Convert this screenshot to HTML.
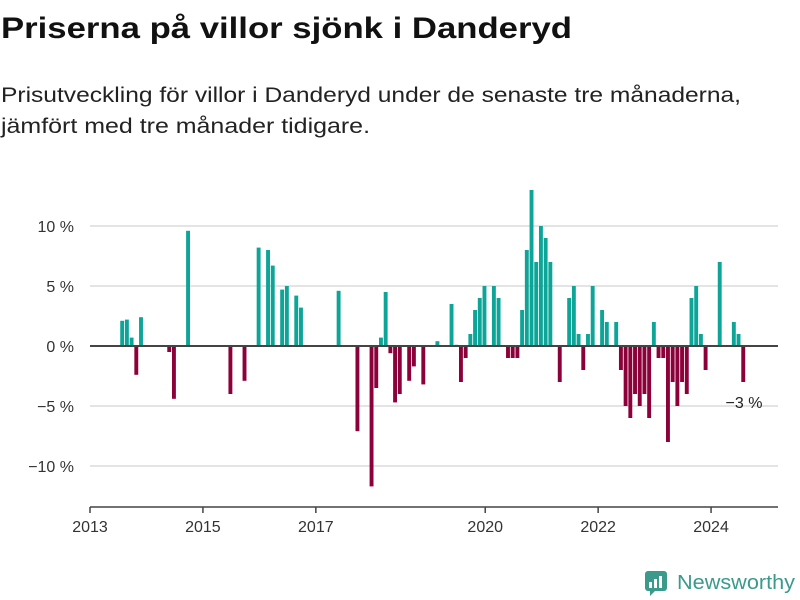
<!DOCTYPE html>
<html><head><meta charset="utf-8"><style>
html,body{margin:0;padding:0;background:#fff;}
svg{display:block;font-family:"Liberation Sans","DejaVu Sans",sans-serif;}
</style></head><body>
<svg id="chart" width="800" height="600" viewBox="0 0 800 600">
<text x="1" y="38" font-size="30" font-weight="bold" fill="#111" textLength="571" lengthAdjust="spacingAndGlyphs">Priserna på villor sjönk i Danderyd</text>
<text x="1" y="102" font-size="21" fill="#222" textLength="740" lengthAdjust="spacingAndGlyphs">Prisutveckling för villor i Danderyd under de senaste tre månaderna,</text>
<text x="1" y="133" font-size="21" fill="#222" textLength="369" lengthAdjust="spacingAndGlyphs">jämfört med tre månader tidigare.</text>
<g id="grid"></g>
<g id="bars"></g>
<g id="axes"></g>
<text x="744" y="408" font-size="16" fill="#222" text-anchor="middle">−3 %</text>
<g>
<rect x="645" y="571" width="22" height="20" rx="3" fill="#3a9a8c"/>
<path d="M650 591 l0 5 l5 -5z" fill="#3a9a8c"/>
<rect x="649" y="582" width="3" height="6" fill="#fff"/><rect x="654" y="579" width="3" height="9" fill="#fff"/><rect x="659" y="576" width="3" height="12" fill="#fff"/>
<text x="677" y="589" font-size="20" fill="#3a9a8c" textLength="118" lengthAdjust="spacingAndGlyphs">Newsworthy</text>
</g>
</svg>
<script>
const months=[6,7,8,9,10,16,17,20,29,32,35,37,38,40,41,43,44,52,56,59,60,61,62,63,64,65,67,68,70,73,76,77,78,79,80,81,82,83,85,86,88,89,90,91,92,93,94,95,96,97,99,101,102,103,104,105,106,108,109,111,112,113,114,115,116,117,118,119,120,121,122,123,124,125,126,127,128,129,130,133,136,137,138];
const values=[2.1,2.2,0.7,-2.4,2.4,-0.5,-4.4,9.6,-4.0,-2.9,8.2,8.0,6.7,4.7,5.0,4.2,3.2,4.6,-7.1,-11.7,-3.5,0.7,4.5,-0.6,-4.7,-4.0,-2.9,-1.7,-3.2,0.4,3.5,0.1,-3.0,-1.0,1.0,3.0,4.0,5.0,5.0,4.0,-1.0,-1.0,-1.0,3.0,8.0,13.0,7.0,10.0,9.0,7.0,-3.0,4.0,5.0,1.0,-2.0,1.0,5.0,3.0,2.0,2.0,-2.0,-5.0,-6.0,-4.0,-5.0,-4.0,-6.0,2.0,-1.0,-1.0,-8.0,-3.0,-5.0,-3.0,-4.0,4.0,5.0,1.0,-2.0,7.0,2.0,1.0,-3.0];
const yTicks=[-10,-5,0,5,10];
const yTickLabels=["−10 %","−5 %","0 %","5 %","10 %"];
const xTickYears=[2013,2015,2017,2020,2022,2024];

const NS="http://www.w3.org/2000/svg";
const X0=90,X1=778,PXM=4.705;
function xs(m){return X0+m*PXM;}
function xYear(y){return xs((y-2013)*12);}
function ys(v){return 346-v*12;}
function mk(tag,attrs,parent){const e=document.createElementNS(NS,tag);for(const k in attrs)e.setAttribute(k,attrs[k]);parent.appendChild(e);return e;}
const grid=document.getElementById('grid'),bars=document.getElementById('bars'),axes=document.getElementById('axes');
yTicks.forEach((t,i)=>{
  if(t!==0){const l=mk('line',{x1:X0,x2:X1,y1:ys(t),y2:ys(t),stroke:'#dcdcdc','stroke-width':1.5},grid);
  
  }
  const tx=mk('text',{x:74,y:ys(t)+6,'font-size':16,fill:'#333','text-anchor':'end'},axes);
  tx.textContent=yTickLabels[i];
  
  
});
months.forEach((m,i)=>{
  const v=values[i];
  const y0=ys(0),y1=ys(v);
  const r=mk('rect',{x:xs(m)+2,y:Math.min(y0,y1),width:3.9,height:Math.abs(y1-y0),fill:v>=0?'#0ca597':'#8c0139'},bars);
  
  
});
const zl=mk('line',{x1:X0,x2:X1,y1:ys(0),y2:ys(0),stroke:'#444','stroke-width':2},axes);


const xa=mk('line',{x1:X0,x2:X1,y1:507,y2:507,stroke:'#444','stroke-width':1.5},axes);


xTickYears.forEach(yr=>{
  const x=xYear(yr);
  const tk=mk('line',{x1:x,x2:x,y1:507,y2:513,stroke:'#444','stroke-width':1.5},axes);
  
  
  const tx=mk('text',{x:x,y:532,'font-size':16,fill:'#333','text-anchor':'middle'},axes);
  tx.textContent=yr;
  
  
});
</script>
</body></html>
